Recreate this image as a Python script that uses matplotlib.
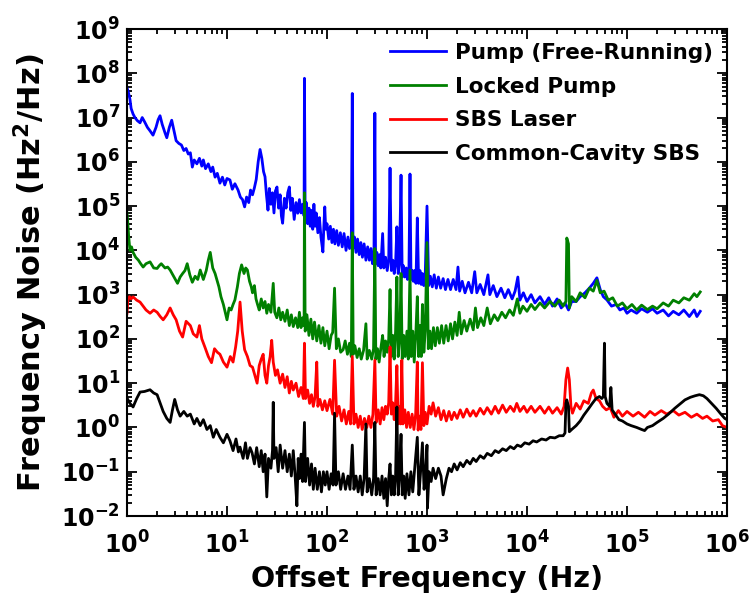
import matplotlib
matplotlib.use("Agg")
import matplotlib.pyplot as plt
from matplotlib.ticker import LogLocator, FuncFormatter, NullFormatter

plt.rcParams['font.family'] = ['DejaVu Sans']
plt.rcParams['font.weight'] = 'bold'
plt.rcParams['mathtext.fontset'] = 'dejavusans'

labels = ["Pump (Free-Running)", "Locked Pump", "SBS Laser", "Common-Cavity SBS"]
colors = ["#0000ff", "#008000", "#ff0000", "#000000"]

pump_x = [1.0, 1.03, 1.07, 1.1, 1.15, 1.2, 1.27, 1.35, 1.42, 1.5, 1.6, 1.7, 1.82, 1.95, 2.05, 2.14, 2.25, 2.4, 2.5, 2.65,
          2.8, 2.95, 3.1, 3.3, 3.5, 3.7, 3.9, 4.1, 4.3, 4.5, 4.7, 5.0, 5.3, 5.6, 5.8, 6.1, 6.5, 6.9, 7.2, 7.6,
          8.0, 8.5, 9.0, 9.5, 10.0, 10.7, 11.3, 12.0, 12.9, 13.6, 14.3, 15.0, 15.7, 16.5, 17.2, 18.0, 18.8, 19.6, 20.5, 21.4,
          22.3, 23.2, 24.0, 24.8, 25.7, 26.5, 27.5, 28.5, 29.5, 30.5, 31.6, 32.8, 34.0, 35.0, 36.0, 37.5, 39.0, 40.5, 42.0, 43.5,
          45.0, 47.0, 49.0, 51.0, 53.0, 55.0, 57.0, 59.0, 59.5, 60.5, 62.0, 64.0, 66.0, 68.0, 70.0, 72.0, 74.0, 76.0, 78.0, 81.0,
          84.0, 87.0, 91.0, 93.0, 95.0, 97.0, 100, 104, 108, 112, 116, 120, 125, 130, 136, 142, 148, 155, 162, 168,
          175, 179, 182, 188, 195, 202, 210, 218, 226, 235, 245, 255, 265, 275, 285, 295, 301, 306, 315, 325,
          335, 345, 360, 370, 385, 400, 414, 427, 440, 455, 470, 485, 500, 515, 530, 550, 565, 580, 600, 620,
          640, 660, 676, 692, 710, 730, 750, 775, 800, 825, 850, 875, 900, 930, 960, 1000, 1040, 1080, 1130, 1180,
          1240, 1300, 1370, 1450, 1530, 1620, 1720, 1830, 1950, 2040, 2120, 2250, 2400, 2600, 2800, 3000, 3150, 3400, 3700, 4070,
          4250, 4600, 5000, 5500, 6000, 6500, 7100, 7600, 8100, 8500, 9200, 1.0e4, 1.1e4, 1.2e4, 1.35e4, 1.5e4, 1.65e4, 1.8e4, 2.0e4, 2.2e4,
          2.4e4, 2.6e4, 2.8e4, 3.1e4, 3.4e4, 3.8e4, 4.2e4, 4.6e4, 5.0e4, 5.4e4, 5.8e4, 6.3e4, 7.0e4, 7.8e4, 8.5e4, 9.3e4, 1.0e5, 1.1e5, 1.25e5, 1.4e5,
          1.6e5, 1.8e5, 2.0e5, 2.3e5, 2.6e5, 2.9e5, 3.3e5, 3.7e5, 4.2e5, 4.7e5, 5.0e5, 5.4e5]
pump_y = [4.7e7, 3.8e7, 2.6e7, 1.6e7, 1.2e7, 1.0e7, 8.5e6, 7.6e6, 1.0e7, 8e6, 6e6, 5e6, 4e6, 6e6, 9e6, 1.1e7, 7e6, 4.5e6, 3.5e6, 6e6,
          8.7e6, 5e6, 3e6, 2.6e6, 2.4e6, 1.8e6, 2e6, 1.5e6, 1.6e6, 7.6e5, 1.1e6, 9e5, 1.2e6, 8e5, 1.1e6, 7e5, 9e5, 6e5, 7.6e5, 4.5e5,
          5.5e5, 3.3e5, 4.5e5, 3e5, 4.2e5, 3.9e5, 2.4e5, 3.2e5, 2.3e5, 1.6e5, 1.4e5, 9.6e4, 1.6e5, 1.2e5, 2.3e5, 1.8e5, 2.6e5, 4e5, 1.0e6, 1.9e6,
          1.2e6, 6e5, 4.6e5, 1.8e5, 8.1e4, 2.5e5, 1.1e5, 2e5, 7e4, 2.2e5, 2.7e5, 9e4, 1.8e5, 6e4, 4.1e4, 1.5e5, 9e4, 2e5, 2.7e5, 8e4,
          1.5e5, 5e4, 1.2e5, 6.9e4, 1.4e5, 7e4, 1.1e5, 6e4, 7.7e7, 5e4, 1.2e5, 4e4, 9e4, 3.5e4, 8e4, 3e4, 1.1e5, 3.5e4, 7e4, 2.5e4,
          5.5e4, 2e4, 9.2e3, 3.5e4, 9.6e4, 3e4, 4e4, 1.8e4, 3.5e4, 1.5e4, 3e4, 1.4e4, 2.8e4, 1.3e4, 2.5e4, 1.2e4, 2.4e4, 1e4, 2e4, 1.1e4,
          1.8e4, 3.5e7, 1.1e4, 2e4, 9e3, 1.8e4, 8e3, 1.5e4, 7e3, 1.4e4, 6e3, 1.2e4, 6e3, 1.1e4, 5e3, 9e3, 1.26e7, 5e3, 9e3, 4.5e3,
          8e3, 4e3, 2.4e4, 4e3, 7e3, 3.5e3, 6e3, 7.2e5, 3.5e3, 6e3, 3e3, 5e3, 3.4e4, 3e3, 5e3, 5e5, 2.5e3, 4.5e3, 2.5e3, 4e3,
          2.2e3, 4e3, 5.3e5, 2.2e3, 3.5e3, 2e3, 3.5e3, 1.8e3, 5.4e4, 1.8e3, 3.5e3, 1.7e3, 3e3, 1.6e3, 2.8e3, 1e5, 1.6e3, 2.6e3, 1.5e3, 2.8e3,
          1.4e3, 2.5e3, 1.4e3, 2.3e3, 1.3e3, 2.2e3, 1.3e3, 2.2e3, 1.3e3, 4.2e3, 1.2e3, 2e3, 1.1e3, 1.9e3, 1.1e3, 3.3e3, 1.1e3, 1.7e3, 1e3, 2.8e3,
          1e3, 1.6e3, 9e2, 1.4e3, 8.5e2, 1.3e3, 8e2, 1.2e3, 2.5e3, 7.5e2, 1.1e3, 7e2, 1e3, 6.5e2, 9e2, 6e2, 8.5e2, 5.5e2, 8e2, 5e2,
          6.5e2, 4.5e2, 7e2, 7e2, 9e2, 1.1e3, 1.4e3, 1.8e3, 2.4e3, 1.3e3, 9e2, 7.6e2, 5.5e2, 6e2, 4.5e2, 5e2, 3.8e2, 4.5e2, 3.8e2, 4.8e2,
          4e2, 4.8e2, 3.8e2, 4.5e2, 3.3e2, 4.2e2, 3.5e2, 4.5e2, 3.2e2, 4.5e2, 3.2e2, 4.2e2]

locked_x = [1.0, 1.02, 1.04, 1.07, 1.11, 1.15, 1.22, 1.3, 1.37, 1.45, 1.55, 1.7, 1.85, 2.0, 2.1, 2.2, 2.4, 2.55, 2.7, 2.95,
            3.2, 3.4, 3.6, 3.8, 4.0, 4.25, 4.5, 4.8, 5.1, 5.4, 5.8, 6.2, 6.5, 6.8, 7.2, 7.6, 7.9, 8.3, 8.7, 9.2,
            9.6, 10.0, 10.5, 11.0, 11.5, 12.0, 12.7, 13.3, 14.0, 14.8, 15.4, 16.0, 16.8, 17.5, 18.0, 18.8, 19.5, 20.2, 21.0, 22.0,
            23.0, 24.0, 25.0, 26.0, 27.5, 29.0, 30.0, 31.5, 33.0, 34.5, 36.0, 38.0, 40.0, 42.0, 44.0, 46.0, 48.5, 51.0, 53.0, 55.0,
            57.0, 59.0, 59.5, 60.5, 63.0, 66.0, 69.0, 72.0, 75.0, 79.0, 83.0, 87.0, 91.0, 95.0, 100, 105, 110, 114, 119, 124,
            130, 137, 145, 152, 160, 168, 175, 179, 183, 190, 200, 210, 220, 232, 245, 252, 265, 280, 292, 301,
            308, 320, 332, 345, 360, 372, 385, 400, 414, 427, 440, 455, 470, 485, 500, 515, 535, 550, 565, 585,
            605, 630, 650, 676, 695, 720, 745, 775, 800, 825, 850, 875, 900, 930, 960, 1000, 1030, 1070, 1110, 1160,
            1210, 1270, 1330, 1400, 1470, 1550, 1630, 1720, 1800, 1900, 2000, 2100, 2200, 2350, 2500, 2700, 2900, 3050, 3200, 3450,
            3700, 4000, 4300, 4700, 5100, 5600, 6100, 6700, 7300, 8000, 8500, 9100, 1.0e4, 1.1e4, 1.2e4, 1.35e4, 1.5e4, 1.7e4, 1.9e4, 2.1e4,
            2.3e4, 2.45e4, 2.5e4, 2.6e4, 2.65e4, 2.8e4, 3.1e4, 3.4e4, 3.8e4, 4.2e4, 4.6e4, 5.0e4, 5.4e4, 5.9e4, 6.5e4, 7.2e4, 8e4, 9e4, 1.0e5, 1.12e5,
            1.25e5, 1.4e5, 1.6e5, 1.8e5, 2.0e5, 2.3e5, 2.6e5, 2.9e5, 3.3e5, 3.7e5, 4.2e5, 4.7e5, 5.0e5, 5.4e5]
locked_y = [7e4, 4e4, 2e4, 1e4, 1.2e4, 9e3, 7e3, 6e3, 5e3, 4.2e3, 5e3, 5.5e3, 4e3, 3.9e3, 4.5e3, 5e3, 4e3, 4.2e3, 3.6e3, 2.5e3,
            1.8e3, 2.5e3, 3e3, 3.5e3, 5e3, 2.8e3, 1.9e3, 2.6e3, 2.2e3, 3.6e3, 2.2e3, 3.5e3, 6e3, 9e3, 4e3, 3e3, 2.2e3, 1.5e3, 9e2, 6e2,
            4e2, 2.7e2, 5e2, 4.5e2, 6e2, 7.6e2, 1.5e3, 3e3, 4.7e3, 3e3, 4e3, 3.6e3, 2e3, 1.5e3, 1.1e3, 1.6e3, 8e2, 6e2, 4.5e2, 8e2,
            5e2, 7e2, 3.8e2, 6e2, 4e2, 1.8e3, 4e2, 3e2, 5e2, 2.7e2, 4e2, 2.5e2, 4.5e2, 2e2, 3.5e2, 1.9e2, 3e2, 1.8e2, 4e2, 1.8e2,
            3e2, 2e2, 2e5, 1.5e2, 3.5e2, 1.2e2, 2.8e2, 1e2, 2.4e2, 9e1, 2e2, 8e1, 1.8e2, 7e1, 1.5e2, 6e1, 1.2e2, 1.4e2, 1.4e3, 6e1,
            1e2, 5e1, 5.7e1, 9e1, 4.5e1, 8e1, 4e1, 2.5e4, 4.5e1, 7e1, 3.8e1, 6e1, 3.5e1, 5.5e1, 2.2e2, 3.5e1, 5.5e1, 3.5e1, 6e1, 1.1e4,
            3.5e1, 6e1, 3e1, 6e1, 1.2e2, 4e1, 9e1, 5e1, 1e2, 1.3e3, 4e1, 1.2e2, 3.5e1, 1.5e2, 2.5e3, 4e1, 1.2e2, 3e3, 3.5e1, 1.2e2,
            4e1, 1.5e2, 3.5e1, 3.6e3, 4e1, 1.5e2, 3e1, 1.5e2, 9e2, 4e1, 2e2, 4e1, 6e2, 5e1, 1.5e2, 1.5e4, 6e1, 1.5e2, 6e1, 1.8e2,
            7e1, 1.8e2, 8e1, 2e2, 8e1, 2e2, 9e1, 2.2e2, 1e2, 2.4e2, 1.2e2, 4e2, 1.3e2, 2.6e2, 1.5e2, 2.8e2, 1.6e2, 5e2, 1.8e2, 3e2,
            2e2, 5e2, 2.2e2, 3.5e2, 2.6e2, 4e2, 3e2, 4.5e2, 3.4e2, 8e2, 3.8e2, 5.5e2, 4.2e2, 6e2, 4.6e2, 6.5e2, 5e2, 7e2, 5.5e2, 7.5e2,
            5.5e2, 7e2, 1.9e4, 1.4e4, 5e2, 9e2, 7e2, 1.1e3, 8.5e2, 1.4e3, 1.2e3, 2.1e3, 1.1e3, 1.2e3, 7.5e2, 8.5e2, 5.5e2, 6.5e2, 4.8e2, 6e2,
            4.5e2, 5.8e2, 4.6e2, 5.5e2, 4.8e2, 6.5e2, 5.5e2, 7.5e2, 6.5e2, 8.5e2, 7.5e2, 1.05e3, 9e2, 1.15e3]

sbs_x = [1.0, 1.02, 1.06, 1.1, 1.15, 1.25, 1.35, 1.45, 1.55, 1.7, 1.85, 2.0, 2.15, 2.3, 2.5, 2.7, 2.9, 3.1, 3.35, 3.6,
         3.9, 4.3, 4.6, 5.0, 5.3, 5.6, 6.0, 6.5, 7.0, 7.5, 8.0, 8.5, 9.2, 10.0, 10.8, 11.5, 12.2, 12.8, 13.5, 14.2,
         15.0, 16.0, 17.0, 18.0, 19.0, 20.0, 21.0, 22.0, 23.0, 24.0, 25.0, 26.0, 27.0, 28.0, 29.0, 30.5, 32.0, 34.0, 36.0, 38.0,
         40.0, 42.0, 44.0, 46.0, 49.0, 52.0, 55.0, 58.0, 59.5, 61.0, 64.0, 67.0, 70.0, 73.0, 76.0, 79.0, 81.0, 85.0, 90.0, 95.0,
         100, 107, 114, 119, 125, 132, 140, 148, 156, 165, 172, 179, 186, 195, 205, 215, 225, 237, 250, 262,
         275, 288, 301, 310, 325, 340, 355, 370, 385, 400, 414, 427, 440, 455, 470, 485, 500, 515, 530, 545,
         560, 575, 600, 625, 650, 680, 710, 740, 770, 800, 815, 840, 870, 900, 930, 960, 1000, 1050, 1100, 1150,
         1220, 1300, 1380, 1470, 1560, 1660, 1760, 1870, 2000, 2150, 2300, 2500, 2700, 2900, 3100, 3400, 3700, 4000, 4400, 4800,
         5200, 5700, 6200, 6800, 7400, 7900, 8500, 9300, 1.0e4, 1.1e4, 1.2e4, 1.35e4, 1.5e4, 1.65e4, 1.8e4, 2.0e4, 2.2e4, 2.35e4, 2.45e4, 2.55e4,
         2.65e4, 2.75e4, 2.85e4, 3.1e4, 3.4e4, 3.7e4, 4.1e4, 4.4e4, 4.6e4, 4.9e4, 5.3e4, 5.7e4, 6.2e4, 6.8e4, 7.4e4, 8.2e4, 9e4, 1.0e5, 1.15e5, 1.3e5,
         1.5e5, 1.7e5, 1.9e5, 2.2e5, 2.5e5, 2.9e5, 3.3e5, 3.8e5, 4.4e5, 5.0e5, 5.7e5, 6.3e5, 7.2e5, 8.2e5, 9e5, 1.0e6]
sbs_y = [3.8e2, 7.6e2, 9e2, 8e2, 8.9e2, 7.5e2, 6.8e2, 5.5e2, 4.5e2, 3.8e2, 4.5e2, 4e2, 3.2e2, 2.7e2, 3.5e2, 5e2, 3.5e2, 2.7e2, 1.5e2, 1.1e2,
         2.5e2, 2e2, 1.3e2, 1.1e2, 2e2, 1e2, 6.6e1, 4e1, 2.9e1, 6e1, 5e1, 4.5e1, 3e1, 2.3e1, 4e1, 3e1, 6.6e1, 1.5e2, 6.8e2, 1.5e2,
         5.7e1, 4e1, 2.5e1, 2.3e1, 1.5e1, 1e1, 2.5e1, 3.5e1, 4.5e1, 1.5e1, 1e1, 2.5e1, 4e1, 9.3e1, 3e1, 1.5e1, 2e1, 1e1, 1.6e1, 8,
         1.4e1, 6, 1.1e1, 7, 1e1, 5, 8, 4.5, 8e1, 4.5, 7, 3.5, 5.5, 3, 5, 3e1, 3, 4.3, 2.5, 4,
         2.4, 4.3, 2, 3.3e1, 1.8, 3, 1.4, 2.5, 1.2, 2.3, 1.2, 4e1, 1.2, 2, 1, 1.8, 0.9, 1.6, 1, 1.8,
         1, 2, 3.3e1, 1.3, 2.5, 1.2, 2.8, 1.5, 3, 2, 3.6, 6.6e1, 2, 3.6, 1.5, 3.6, 2.5e1, 1.2, 3, 1.2,
         3.3e1, 1.2, 2.5, 1, 2.2, 1, 2, 0.9, 2, 3e1, 0.87, 1.8, 0.9, 2.9e1, 1.1, 2.2, 1.2, 3, 2, 3.6,
         1.8, 2.8, 1.5, 2.4, 1.4, 2.3, 1.5, 2.2, 1.6, 2.5, 1.7, 2.6, 1.8, 2.4, 1.8, 2.7, 2, 2.8, 2, 3,
         2.1, 3.2, 2.2, 3, 2.3, 3.5, 2.3, 3, 2.2, 3, 2.2, 3, 2.1, 2.9, 2.1, 2.8, 2, 3, 1.2e1, 2.2e1,
         1.2e1, 3, 2.1, 3.5, 2.6, 4, 3.5, 6, 7, 4.5, 4, 3, 2.5, 2.8, 1.7, 2.4, 1.8, 2.3, 1.8, 2.2,
         1.7, 2.3, 1.9, 2.4, 2, 2.4, 1.9, 2.2, 1.7, 2, 1.6, 1.8, 1.4, 1.5, 1.1, 1.0]

cc_x = [1.0, 1.07, 1.15, 1.25, 1.35, 1.5, 1.7, 1.85, 2.0, 2.15, 2.3, 2.5, 2.7, 2.85, 3.0, 3.2, 3.4, 3.7, 4.0, 4.3,
        4.7, 5.0, 5.4, 5.8, 6.3, 6.8, 7.3, 7.8, 8.5, 9.2, 10.0, 10.7, 11.5, 12.3, 13.0, 13.5, 14.5, 15.3, 16.0, 17.0,
        17.8, 18.8, 19.8, 21.0, 22.0, 23.0, 24.0, 25.0, 26.0, 27.5, 28.5, 29.0, 29.5, 31.0, 32.5, 34.0, 36.0, 38.0, 40.0, 42.0,
        44.0, 46.0, 48.0, 50.0, 51.5, 53.0, 55.0, 57.0, 59.5, 61.0, 64.0, 67.0, 70.0, 73.0, 76.0, 80.0, 84.0, 88.0, 92.0, 96.0,
        100, 105, 110, 115, 119, 123, 130, 137, 145, 153, 162, 170, 179, 186, 195, 205, 215, 225, 235, 245,
        252, 265, 280, 292, 301, 310, 325, 340, 355, 370, 385, 400, 414, 427, 440, 455, 470, 485, 500, 515,
        530, 550, 565, 585, 605, 630, 660, 690, 720, 760, 800, 830, 860, 900, 935, 970, 1000, 1010, 1050, 1100,
        1150, 1220, 1300, 1380, 1450, 1560, 1660, 1760, 1870, 2000, 2150, 2300, 2500, 2700, 2900, 3100, 3400, 3700, 4000, 4400,
        4800, 5200, 5700, 6200, 6800, 7400, 8000, 8700, 9500, 1.05e4, 1.15e4, 1.25e4, 1.4e4, 1.55e4, 1.7e4, 1.9e4, 2.1e4, 2.3e4, 2.4e4, 2.45e4,
        2.5e4, 2.6e4, 2.65e4, 2.8e4, 3.1e4, 3.4e4, 3.7e4, 4.1e4, 4.5e4, 4.9e4, 5.3e4, 5.6e4, 5.8e4, 5.95e4, 6.05e4, 6.3e4, 6.7e4, 6.9e4, 7.1e4, 7.6e4,
        8.3e4, 9e4, 1.0e5, 1.1e5, 1.25e5, 1.4e5, 1.5e5, 1.6e5, 1.8e5, 2.0e5, 2.3e5, 2.6e5, 3.0e5, 3.4e5, 3.8e5, 4.3e5, 4.8e5, 5.3e5, 5.8e5, 6.3e5,
        7.0e5, 7.8e5, 8.7e5, 9.5e5, 1.0e6]
cc_y = [4.6, 3.5, 2.9, 4.5, 6.3, 6.5, 7.1, 6, 5.5, 3.5, 2.3, 1.6, 1.3, 2.5, 4.3, 2.5, 1.8, 2.3, 1.8, 2.0,
        1.2, 1.6, 1.1, 1.5, 0.9, 1.1, 0.6, 0.9, 0.6, 0.45, 0.7, 0.5, 0.3, 0.55, 0.28, 0.36, 0.2, 0.45, 0.2, 0.35,
        0.27, 0.15, 0.35, 0.13, 0.3, 0.1, 0.25, 0.027, 0.2, 0.12, 0.3, 3.7, 0.2, 0.35, 0.1, 0.4, 0.12, 0.3, 0.1, 0.25,
        0.08, 0.3, 0.08, 0.017, 0.2, 0.07, 0.25, 0.06, 1.3, 0.06, 0.2, 0.05, 0.15, 0.04, 0.12, 0.04, 0.1, 0.035, 0.1, 0.05,
        0.1, 0.04, 0.09, 0.05, 2.1, 0.05, 0.1, 0.04, 0.09, 0.04, 0.08, 0.04, 0.4, 0.04, 0.08, 0.035, 0.08, 0.03, 0.07, 1.2,
        0.035, 0.07, 0.03, 0.07, 1.3, 0.03, 0.07, 0.03, 0.08, 0.025, 0.07, 0.017, 0.07, 0.15, 0.03, 0.08, 0.03, 0.08, 2.9, 0.03,
        0.08, 0.7, 0.03, 0.08, 0.025, 0.09, 0.03, 0.1, 0.035, 0.15, 0.6, 0.03, 0.09, 0.45, 0.04, 0.1, 0.4, 0.015, 0.1, 0.06,
        0.12, 0.07, 0.12, 0.08, 0.03, 0.07, 0.12, 0.1, 0.15, 0.11, 0.16, 0.13, 0.18, 0.15, 0.2, 0.17, 0.23, 0.2, 0.26, 0.23,
        0.3, 0.27, 0.33, 0.3, 0.37, 0.33, 0.4, 0.37, 0.45, 0.42, 0.5, 0.47, 0.55, 0.52, 0.6, 0.58, 0.65, 0.65, 0.75, 3.5,
        4.2, 3, 0.8, 0.9, 1.1, 1.4, 1.9, 2.6, 3.5, 4.5, 5, 4.5, 5, 80, 5, 3.5, 3, 8, 2.5, 2,
        1.5, 1.4, 1.2, 1.1, 1.0, 0.9, 0.85, 1.0, 1.1, 1.3, 1.6, 2.0, 2.7, 3.4, 4.2, 4.8, 5.2, 5.5, 5.2, 4.5,
        3.5, 2.7, 2.0, 1.6, 1.5]

x_ticks = [1e0, 1e1, 1e2, 1e3, 1e4, 1e5, 1e6]
y_ticks = [1e-2, 1e-1, 1e0, 1e1, 1e2, 1e3, 1e4, 1e5, 1e6, 1e7, 1e8, 1e9]

fig = plt.figure(figsize=(7.52, 6.0), dpi=100)
ax = fig.add_axes([127 / 752, 1 - 516 / 600, 600 / 752, 487 / 600])

series = [(pump_x, pump_y), (locked_x, locked_y), (sbs_x, sbs_y), (cc_x, cc_y)]
for (xs, ys), lab, col in zip(series, labels, colors):
    ax.plot(xs, ys, color=col, lw=2.0, label=lab)

ax.set_xscale('log')
ax.set_yscale('log')
ax.set_xlim(1, 1e6)
ax.set_ylim(1e-2, 1e9)

def fmt(v, pos):
    import math
    e = int(round(math.log10(v)))
    return r'$\mathbf{10^{%d}}$' % e

ax.set_xticks(x_ticks)
ax.set_yticks(y_ticks)
ax.xaxis.set_minor_locator(LogLocator(base=10, subs=range(2, 10), numticks=20))
ax.yaxis.set_minor_locator(LogLocator(base=10, subs=range(2, 10), numticks=20))
ax.xaxis.set_major_formatter(FuncFormatter(fmt))
ax.yaxis.set_major_formatter(FuncFormatter(fmt))
ax.xaxis.set_minor_formatter(NullFormatter())
ax.yaxis.set_minor_formatter(NullFormatter())

ax.tick_params(which='both', direction='in', top=True, right=True, width=1.3)
ax.tick_params(which='major', length=7, labelsize=17)
ax.tick_params(axis='x', which='major', pad=11)
ax.tick_params(axis='y', which='major', pad=5)
ax.tick_params(which='minor', length=3.5)
for sp in ax.spines.values():
    sp.set_linewidth(1.5)

ax.set_xlabel('Offset Frequency (Hz)', fontsize=20.5, fontweight='bold', labelpad=5)
ax.set_ylabel(r'Frequency Noise (Hz$^\mathbf{2}$/Hz)', fontsize=22, fontweight='bold', labelpad=8)

leg = ax.legend(loc='upper right', bbox_to_anchor=(1.0, 1.0), frameon=False,
                prop={'weight': 'bold', 'size': 15.5}, handlelength=2.6, handletextpad=0.4,
                labelspacing=0.63, borderpad=0.2, borderaxespad=0.45)
for h in leg.get_lines():
    h.set_linewidth(2)

fig.savefig('out.png', dpi=100)
